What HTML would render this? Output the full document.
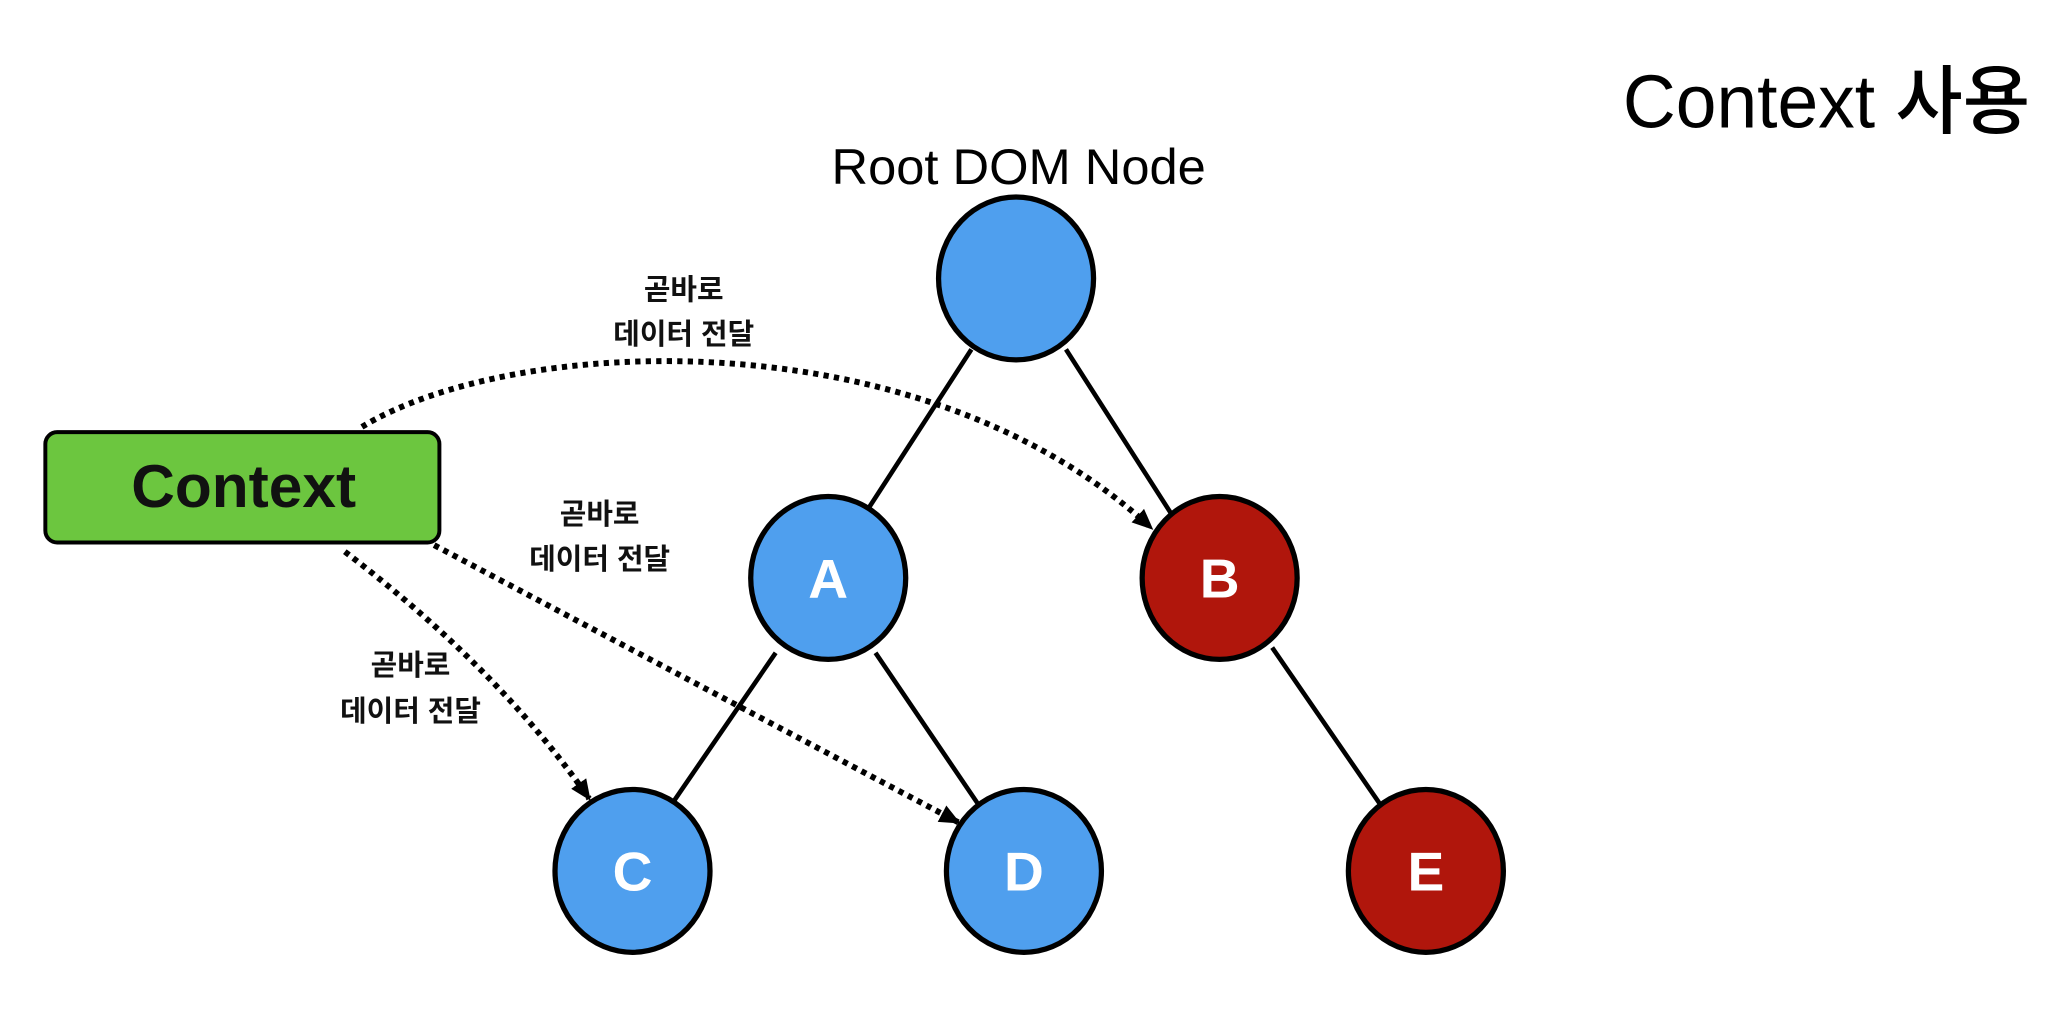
<!DOCTYPE html>
<html><head><meta charset="utf-8"><style>
html,body{margin:0;padding:0;background:#fff;}
svg{display:block;}
text{font-family:"Liberation Sans","Noto Sans CJK KR",sans-serif;}
</style></head><body>
<svg width="2061" height="1018" viewBox="0 0 1568 775" xmlns="http://www.w3.org/2000/svg">
<defs>
<marker id="ar" markerWidth="16" markerHeight="16" refX="14" refY="8" orient="auto" markerUnits="userSpaceOnUse" viewBox="0 0 16 16">
<path d="M0,1 L16,8 L0,15 z" fill="#000"/>
</marker>
</defs>
<rect width="1568" height="775" fill="#fff"/>
<text x="1545" y="97" text-anchor="end" font-size="57" font-weight="500" fill="#000" textLength="310" lengthAdjust="spacingAndGlyphs">Context 사용</text>
<text x="775" y="140" text-anchor="middle" font-size="38" fill="#000" textLength="285" lengthAdjust="spacingAndGlyphs">Root DOM Node</text>
<!-- tree edges -->
<g stroke="#000" stroke-width="3.5">
<line x1="739" y1="266" x2="660" y2="388"/>
<line x1="811" y1="266" x2="893" y2="394"/>
<line x1="590" y1="497" x2="511" y2="612"/>
<line x1="666" y1="497" x2="744" y2="612"/>
<line x1="968" y1="493" x2="1050" y2="612"/>
</g>
<!-- dotted arrows -->
<g stroke="#000" stroke-width="4.5" stroke-dasharray="4 4" fill="none">
<path d="M275,325 C390,255 700,240 876,402" marker-end="url(#ar)"/>
<path d="M330,415 L729,626" marker-end="url(#ar)"/>
<path d="M262,420 Q380,510 448,608" marker-end="url(#ar)"/>
</g>
<!-- context box -->
<rect x="34" y="329" width="300" height="84" rx="9" fill="#6cc63f" stroke="#000" stroke-width="3"/>
<text x="185" y="386" text-anchor="middle" font-size="46" font-weight="bold" fill="#111">Context</text>
<!-- nodes -->
<g stroke="#000" stroke-width="4">
<ellipse cx="773" cy="212" rx="59" ry="62" fill="#4f9fee"/>
<ellipse cx="630" cy="440" rx="59" ry="62" fill="#4f9fee"/>
<ellipse cx="928" cy="440" rx="59" ry="62" fill="#b0160c"/>
<ellipse cx="481" cy="663" rx="59" ry="62" fill="#4f9fee"/>
<ellipse cx="779" cy="663" rx="59" ry="62" fill="#4f9fee"/>
<ellipse cx="1085" cy="663" rx="59" ry="62" fill="#b0160c"/>
</g>
<g fill="#fff" font-size="42" font-weight="bold" text-anchor="middle">
<text x="630" y="455">A</text>
<text x="928" y="455">B</text>
<text x="481" y="678">C</text>
<text x="779" y="678">D</text>
<text x="1085" y="678">E</text>
</g>
<g font-size="22" font-weight="bold" text-anchor="middle" fill="#111">
<text x="520" y="228">곧바로</text>
<text x="520" y="262">데이터 전달</text>
<text x="456" y="399">곧바로</text>
<text x="456" y="433">데이터 전달</text>
<text x="312" y="514">곧바로</text>
<text x="312" y="549">데이터 전달</text>
</g>
</svg>
</body></html>
